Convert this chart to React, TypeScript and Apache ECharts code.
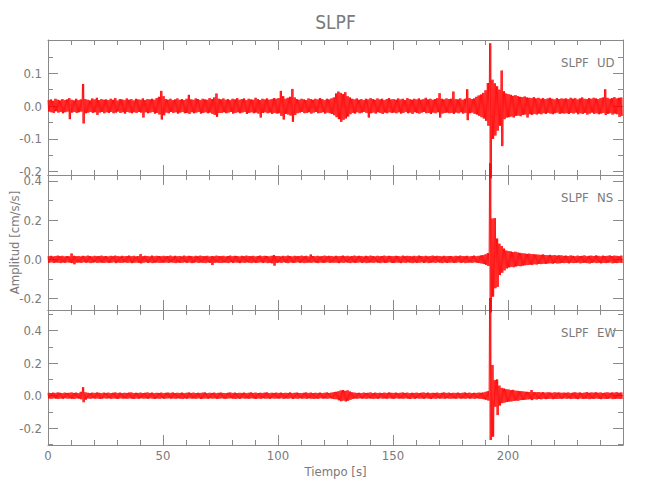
import React, { useEffect, useRef } from "react";
import * as echarts from "echarts";

// ---- data (amplitude envelope per 1 s bin, in 0.001 cm/s/s) ----
const STATION = "SLPF";
const COMPONENTS = ["UD", "NS", "EW"];
const X_TICKS = [0, 50, 100, 150, 200];
const UNIT = 0.001;

const udHi = [
  18,20,16,22,19,17,21,18,20,24,19,17,22,18,20,67,21,19,17,23,20,25,18,21,19,
  20,18,22,19,24,17,21,20,18,23,19,21,17,22,20,19,23,18,21,20,22,19,24,28,46,
  30,21,19,22,18,20,23,19,21,18,22,34,20,19,23,21,18,22,20,19,24,21,26,38,22,
  20,23,19,21,18,22,20,24,19,21,23,18,22,20,19,25,21,18,22,20,23,19,21,24,22,
  24,46,30,22,25,28,52,26,21,19,22,20,18,23,21,19,22,20,24,21,18,22,20,23,26,
  38,44,40,36,42,30,26,22,20,23,19,21,18,22,20,24,21,19,23,20,22,18,21,24,20,
  21,19,23,20,22,18,24,21,19,22,20,23,19,21,25,20,22,19,21,24,39,22,20,23,21,
  22,44,21,20,23,19,22,51,24,21,23,28,32,35,40,48,70,191,80,69,60,50,108,45,38,
  36,34,31,33,30,28,27,29,26,25,24,27,23,25,22,24,21,23,25,22,20,24,21,23,22,
  23,21,25,22,24,20,23,26,22,21,24,22,25,23,21,24,26,51,25,22,24,27,23,25,26,
];
const udLo = [
  -17,-19,-21,-16,-20,-18,-22,-19,-17,-40,-20,-18,-21,-19,-17,-53,-22,-20,-18,-21,-19,-27,-20,-18,-22,
  -19,-21,-18,-22,-20,-17,-21,-19,-23,-18,-20,-22,-19,-21,-18,-20,-35,-19,-22,-20,-18,-23,-21,-26,-41,
  -28,-20,-22,-18,-21,-19,-23,-20,-18,-22,-21,-24,-19,-22,-20,-18,-23,-21,-19,-22,-20,-24,-27,-33,-21,
  -21,-19,-22,-20,-18,-23,-21,-19,-22,-20,-18,-24,-21,-19,-22,-20,-23,-35,-21,-19,-22,-20,-24,-21,-23,
  -22,-30,-41,-24,-26,-29,-48,-27,-22,-20,-18,-22,-21,-19,-23,-20,-18,-22,-21,-19,-23,-20,-22,-24,-28,
  -34,-40,-48,-42,-38,-32,-25,-21,-23,-19,-22,-20,-18,-21,-35,-22,-20,-23,-19,-21,-24,-20,-22,-19,-21,
  -20,-22,-19,-23,-21,-18,-22,-20,-24,-19,-21,-23,-20,-18,-22,-21,-24,-20,-22,-19,-35,-23,-21,-20,-22,
  -21,-24,-20,-22,-19,-23,-21,-43,-22,-20,-24,-26,-30,-34,-38,-45,-60,-220,-100,-90,-75,-60,-122,-40,-35,
  -34,-32,-35,-30,-29,-31,-27,-26,-35,-25,-27,-24,-26,-23,-25,-22,-24,-21,-23,-25,-22,-20,-24,-22,-23,
  -22,-24,-21,-23,-20,-25,-22,-24,-21,-26,-23,-20,-24,-22,-25,-23,-21,-27,-24,-22,-26,-23,-25,-33,-30,
];

const nsHi = [
  16,18,15,17,19,16,18,15,17,16,30,18,16,17,15,18,16,19,17,15,18,16,17,19,16,
  17,15,18,16,19,17,15,18,16,17,19,16,18,15,17,27,16,18,17,15,19,16,18,17,16,
  18,16,17,19,15,18,16,17,15,19,16,18,17,15,18,16,19,17,16,18,15,17,16,19,17,
  16,18,15,17,19,16,18,17,15,18,16,19,17,16,18,15,17,19,16,18,17,15,18,22,17,
  17,15,18,16,19,17,15,18,16,17,19,16,18,15,25,17,16,18,15,17,19,16,18,17,15,
  18,16,17,19,16,18,15,17,19,16,18,17,15,18,16,19,17,15,18,16,17,19,16,18,17,
  16,18,17,15,19,16,18,17,15,18,16,19,17,16,18,15,17,19,16,18,17,15,18,16,17,
  17,15,18,16,19,17,16,18,15,17,19,16,18,20,22,26,32,490,208,210,106,80,68,55,45,
  42,40,37,39,35,33,31,30,28,29,27,26,25,24,23,25,22,21,23,20,22,19,21,20,18,
  19,17,20,18,16,19,17,18,20,16,18,19,17,20,18,16,19,17,18,20,17,19,18,16,19,
];
const nsLo = [
  -17,-15,-18,-16,-17,-19,-16,-18,-15,-17,-19,-25,-17,-16,-18,-15,-17,-16,-19,-17,-15,-18,-16,-17,-18,
  -16,-18,-17,-15,-19,-16,-18,-17,-15,-18,-16,-19,-17,-16,-18,-20,-17,-15,-18,-16,-19,-17,-16,-18,-17,
  -17,-16,-18,-15,-17,-19,-16,-18,-17,-15,-18,-16,-19,-17,-15,-18,-16,-17,-19,-16,-18,-29,-17,-16,-18,
  -18,-16,-17,-19,-15,-18,-16,-17,-19,-16,-18,-15,-17,-19,-16,-18,-17,-15,-18,-16,-19,-17,-20,-32,-18,
  -16,-18,-15,-17,-19,-16,-18,-17,-15,-18,-16,-19,-17,-16,-18,-15,-17,-19,-16,-18,-17,-15,-18,-16,-17,
  -17,-19,-16,-18,-15,-17,-19,-16,-18,-17,-15,-18,-16,-19,-17,-16,-18,-15,-17,-19,-16,-18,-17,-15,-18,
  -18,-16,-17,-19,-16,-18,-15,-17,-19,-16,-18,-17,-15,-18,-16,-19,-17,-16,-18,-15,-17,-19,-16,-18,-17,
  -16,-18,-17,-15,-18,-16,-19,-17,-16,-18,-15,-17,-19,-21,-24,-28,-34,-270,-190,-147,-140,-80,-68,-56,-46,
  -41,-38,-40,-36,-34,-35,-32,-30,-29,-27,-28,-25,-26,-23,-24,-22,-23,-21,-20,-22,-19,-21,-20,-18,-19,
  -18,-20,-17,-19,-18,-16,-20,-18,-17,-19,-21,-18,-16,-19,-17,-20,-18,-19,-17,-16,-20,-18,-19,-17,-18,
];

const ewHi = [
  18,16,19,17,20,18,16,19,17,18,20,17,19,16,24,52,21,18,16,19,17,20,18,16,19,
  17,19,16,18,20,17,19,16,18,17,19,20,16,18,17,19,16,18,20,17,19,16,18,17,19,
  16,18,19,17,20,16,18,17,19,16,18,20,17,19,16,18,17,19,20,16,18,17,19,16,18,
  19,17,16,18,20,17,19,16,18,17,19,16,18,20,17,19,16,18,17,19,20,16,18,17,19,
  17,19,16,18,17,20,16,18,19,17,16,18,20,17,19,16,18,17,19,16,18,20,17,19,22,
  24,27,32,35,30,33,26,21,19,17,18,16,19,17,18,20,16,19,17,18,16,19,17,20,18,
  17,19,16,18,20,17,19,16,18,17,19,16,18,20,17,19,16,18,17,19,16,18,20,17,19,
  16,18,17,19,16,18,20,17,19,16,18,17,19,18,20,24,28,600,189,96,100,62,48,44,40,
  38,34,36,31,30,28,27,25,24,23,35,22,21,23,20,22,19,21,20,18,21,19,20,18,19,
  18,20,17,19,21,18,20,17,19,22,18,20,19,21,18,20,17,19,21,18,20,19,22,18,20,
];
const ewLo = [
  -17,-19,-16,-18,-20,-17,-19,-16,-18,-17,-19,-20,-16,-18,-22,-40,-24,-17,-19,-16,-18,-17,-20,-18,-16,
  -18,-16,-19,-17,-18,-20,-16,-18,-17,-19,-16,-18,-20,-17,-19,-16,-18,-17,-19,-16,-18,-20,-17,-19,-16,
  -19,-17,-16,-18,-17,-19,-16,-18,-20,-17,-19,-16,-18,-17,-19,-16,-20,-18,-17,-19,-16,-18,-17,-19,-18,
  -16,-18,-19,-17,-16,-18,-20,-17,-19,-16,-18,-17,-19,-16,-18,-20,-17,-19,-16,-18,-17,-19,-16,-18,-17,
  -18,-16,-19,-17,-18,-16,-20,-17,-19,-16,-18,-17,-19,-16,-18,-20,-17,-19,-16,-18,-17,-19,-16,-18,-21,
  -22,-28,-34,-30,-35,-31,-25,-20,-17,-19,-16,-18,-17,-19,-16,-18,-20,-17,-19,-16,-18,-17,-19,-16,-18,
  -19,-16,-18,-17,-19,-16,-18,-20,-17,-19,-16,-18,-17,-19,-16,-18,-20,-17,-19,-16,-18,-17,-19,-16,-18,
  -18,-17,-19,-16,-18,-17,-19,-16,-18,-17,-19,-16,-18,-20,-22,-25,-30,-272,-252,-68,-119,-60,-46,-42,-39,
  -36,-35,-32,-30,-31,-27,-26,-25,-23,-22,-27,-21,-23,-20,-22,-19,-21,-20,-18,-21,-19,-20,-18,-19,-17,
  -19,-17,-20,-18,-19,-21,-17,-20,-18,-19,-21,-18,-20,-17,-19,-21,-18,-20,-19,-17,-21,-19,-18,-20,-19,
];

const HI = [udHi, nsHi, ewHi];
const LO = [udLo, nsLo, ewLo];

const Y_MIN = [-0.21, -0.258, -0.303];
const Y_MAX = [0.201, 0.43, 0.527];
const Y_MAJOR = [
  [-0.2, -0.1, 0, 0.1],
  [-0.2, 0, 0.2, 0.4],
  [-0.2, 0, 0.2, 0.4],
];
const Y_MINOR = [
  [-0.15, -0.05, 0.05, 0.15],
  [-0.1, 0.1, 0.3],
  [-0.3, -0.1, 0.1, 0.3, 0.5],
];

// ---- layout / style ----
const FONT = "'DejaVu Sans Condensed', 'Liberation Sans Narrow', 'DejaVu Sans', sans-serif";
const TXT = "#7a7a7a";
const AX = "#8a8a8a";
const LEFT = 48;
const RIGHT = 27;
const TOPS = [40, 175, 310];
const PH = 135;

// each 1 s envelope bin is drawn as a dense trace sweeping between its peak and trough
function buildTrace(hi: number[], lo: number[]) {
  const n = Math.min(hi.length, lo.length);
  const pts: number[][] = [];
  for (let i = 0; i < n; i++) {
    pts.push([i, hi[i] * UNIT]);
    pts.push([i + 0.25, lo[i] * UNIT]);
    pts.push([i + 0.5, hi[i] * UNIT]);
    pts.push([i + 0.75, lo[i] * UNIT]);
  }
  return pts;
}

export default function App() {
  const ref = useRef<HTMLDivElement>(null);
  useEffect(() => {
    if (!ref.current) return;
    const chart = echarts.init(ref.current, undefined, { renderer: "svg" });

    const grids = TOPS.map((t) => ({ left: LEFT, right: RIGHT, top: t, height: PH }));

    const xAxes: any[] = [];
    TOPS.forEach((_, k) => {
      ["bottom", "top"].forEach((pos) => {
        const showLabel = k === 2 && pos === "bottom";
        xAxes.push({
          type: "value",
          gridIndex: k,
          position: pos,
          min: 0,
          max: 250,
          interval: 50,
          axisLine: { show: true, onZero: false, lineStyle: { color: AX, width: 1 } },
          axisTick: { show: true, inside: true, length: 10, lineStyle: { color: AX, width: 1 } },
          minorTick: { show: true, splitNumber: 5, length: 5, lineStyle: { color: AX, width: 1 } },
          splitLine: { show: false },
          minorSplitLine: { show: false },
          axisLabel: {
            show: showLabel,
            color: TXT,
            fontFamily: FONT,
            fontWeight: 200,
            fontSize: 13,
            margin: 4,
            customValues: X_TICKS,
          },
        });
      });
    });

    const yAxes: any[] = [];
    TOPS.forEach((_, k) => {
      ["left", "right"].forEach((pos) => {
        [true, false].forEach((major) => {
          yAxes.push({
            type: "value",
            gridIndex: k,
            position: pos,
            min: Y_MIN[k],
            max: Y_MAX[k],
            axisLine: { show: major, onZero: false, lineStyle: { color: AX, width: 1 } },
            axisTick: {
              show: true,
              inside: true,
              length: major ? 10 : 5,
              customValues: major ? Y_MAJOR[k] : Y_MINOR[k],
              lineStyle: { color: AX, width: 1 },
            },
            splitLine: { show: false },
            axisLabel: {
              show: major && pos === "left",
              color: TXT,
              fontFamily: FONT,
              fontWeight: 200,
              fontSize: 13,
              margin: 6,
              customValues: Y_MAJOR[k],
              formatter: (v: number) => v.toFixed(1),
            },
          });
        });
      });
    });

    const series = TOPS.map((_, k) => ({
      type: "line",
      xAxisIndex: 2 * k,
      yAxisIndex: 4 * k,
      data: buildTrace(HI[k], LO[k]),
      showSymbol: false,
      symbol: "none",
      clip: false,
      silent: true,
      lineStyle: { color: "#ff0000", width: 0.8 },
      z: 1,
    }));

    const txt = (extra: any) => ({ fill: TXT, fontFamily: FONT, fontWeight: 200, ...extra });
    const graphics: any[] = [
      {
        type: "text",
        x: 335.5,
        y: 22,
        style: txt({ text: STATION, fontSize: 19, align: "center", verticalAlign: "middle" }),
      },
      {
        type: "text",
        x: 335.5,
        y: 471,
        style: txt({ text: "Tiempo [s]", fontSize: 13, align: "center", verticalAlign: "middle" }),
      },
      {
        type: "text",
        x: 14,
        y: 242.5,
        rotation: Math.PI / 2,
        style: txt({ text: "Amplitud [cm/s/s]", fontSize: 13, align: "center", verticalAlign: "middle" }),
      },
    ];
    TOPS.forEach((t, k) => {
      graphics.push({
        type: "text",
        x: 561,
        y: t + 22,
        style: txt({ text: STATION, fontSize: 13, align: "left", verticalAlign: "middle" }),
      });
      graphics.push({
        type: "text",
        x: 597,
        y: t + 22,
        style: txt({ text: COMPONENTS[k], fontSize: 13, align: "left", verticalAlign: "middle" }),
      });
    });

    chart.setOption({
      animation: false,
      backgroundColor: "#ffffff",
      grid: grids,
      xAxis: xAxes,
      yAxis: yAxes,
      series,
      graphic: graphics,
    });
    return () => chart.dispose();
  }, []);

  return (
    <div
      ref={ref}
      style={{ position: "absolute", left: 0, top: 0, width: 650, height: 500 }}
    />
  );
}
